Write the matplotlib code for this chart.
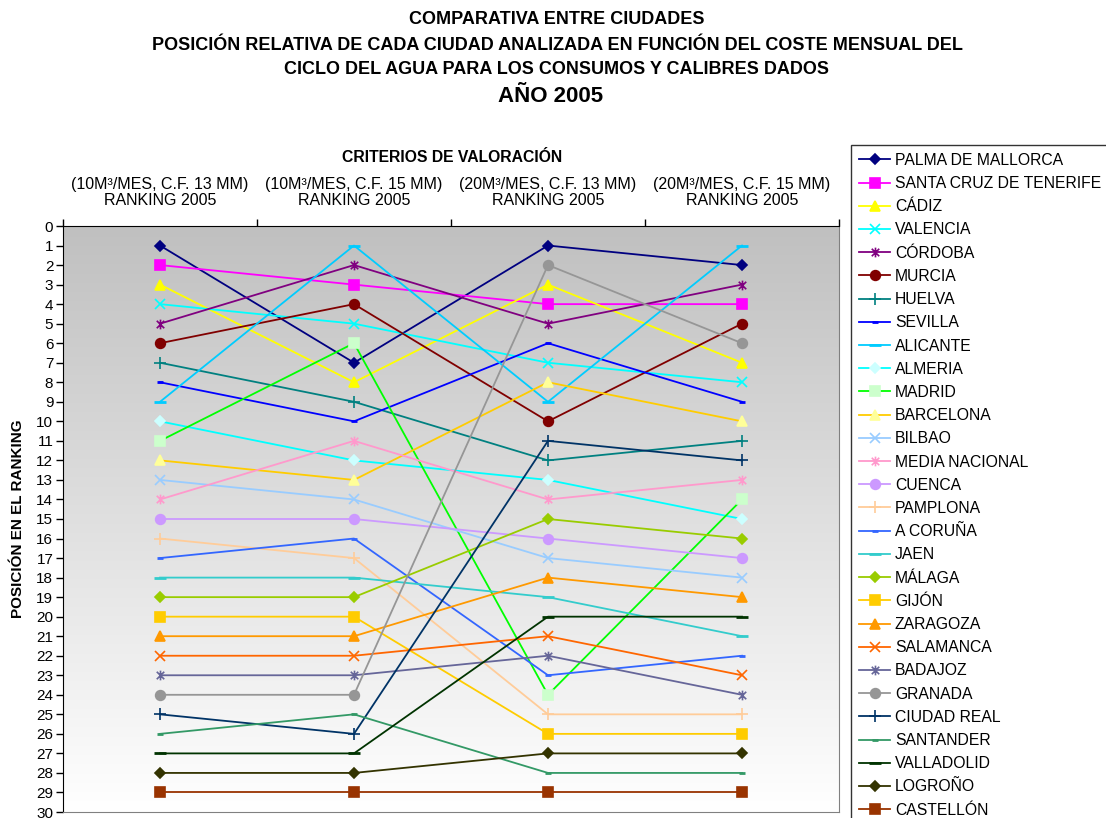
import numpy as np
import matplotlib
matplotlib.use("Agg")
import matplotlib.pyplot as plt
from matplotlib.path import Path
from matplotlib.colors import LinearSegmentedColormap

plt.rcParams['font.family'] = ['Liberation Sans', 'DejaVu Sans']

# categories (x axis, top)
criterios = ["(10M³/MES, C.F. 13 MM)\nRANKING 2005",
             "(10M³/MES, C.F. 15 MM)\nRANKING 2005",
             "(20M³/MES, C.F. 13 MM)\nRANKING 2005",
             "(20M³/MES, C.F. 15 MM)\nRANKING 2005"]

ciudades = ["PALMA DE MALLORCA", "SANTA CRUZ DE TENERIFE", "CÁDIZ", "VALENCIA",
            "CÓRDOBA", "MURCIA", "HUELVA", "SEVILLA", "ALICANTE", "ALMERIA",
            "MADRID", "BARCELONA", "BILBAO", "MEDIA NACIONAL", "CUENCA",
            "PAMPLONA", "A CORUÑA", "JAEN", "MÁLAGA", "GIJÓN", "ZARAGOZA",
            "SALAMANCA", "BADAJOZ", "GRANADA", "CIUDAD REAL", "SANTANDER",
            "VALLADOLID", "LOGROÑO", "CASTELLÓN"]

# ranking positions per city, one value per criterio
posiciones = [
    [1, 7, 1, 2],
    [2, 3, 4, 4],
    [3, 8, 3, 7],
    [4, 5, 7, 8],
    [5, 2, 5, 3],
    [6, 4, 10, 5],
    [7, 9, 12, 11],
    [8, 10, 6, 9],
    [9, 1, 9, 1],
    [10, 12, 13, 15],
    [11, 6, 24, 14],
    [12, 13, 8, 10],
    [13, 14, 17, 18],
    [14, 11, 14, 13],
    [15, 15, 16, 17],
    [16, 17, 25, 25],
    [17, 16, 23, 22],
    [18, 18, 19, 21],
    [19, 19, 15, 16],
    [20, 20, 26, 26],
    [21, 21, 18, 19],
    [22, 22, 21, 23],
    [23, 23, 22, 24],
    [24, 24, 2, 6],
    [25, 26, 11, 12],
    [26, 25, 28, 28],
    [27, 27, 20, 20],
    [28, 28, 27, 27],
    [29, 29, 29, 29],
]

# Excel-like asterisk marker (x plus vertical bar)
asterisk = Path([(-1, -1), (1, 1), (-1, 1), (1, -1), (0, -1.3), (0, 1.3)],
                [Path.MOVETO, Path.LINETO, Path.MOVETO, Path.LINETO, Path.MOVETO, Path.LINETO])

# (line colour, marker, marker face colour, marker size)
estilos = [
    ("#000080", "D", "#000080", 5),
    ("#FF00FF", "s", "#FF00FF", 7),
    ("#FFFF00", "^", "#FFFF00", 7),
    ("#00FFFF", "x", "#00FFFF", 7),
    ("#800080", asterisk, "#800080", 7),
    ("#800000", "o", "#800000", 7),
    ("#008080", "+", "#008080", 8),
    ("#0000FF", "_", "#0000FF", 5),
    ("#00CCFF", "_", "#00CCFF", 8),
    ("#00FFFF", "D", "#CCFFFF", 5),
    ("#00FF00", "s", "#CCFFCC", 7),
    ("#FFCC00", "^", "#FFFF99", 7),
    ("#99CCFF", "x", "#99CCFF", 7),
    ("#FF99CC", asterisk, "#FF99CC", 7),
    ("#CC99FF", "o", "#CC99FF", 7),
    ("#FFCC99", "+", "#FFCC99", 8),
    ("#3366FF", "_", "#3366FF", 5),
    ("#33CCCC", "_", "#33CCCC", 8),
    ("#99CC00", "D", "#99CC00", 5),
    ("#FFCC00", "s", "#FFCC00", 7),
    ("#FF9900", "^", "#FF9900", 7),
    ("#FF6600", "x", "#FF6600", 7),
    ("#666699", asterisk, "#666699", 7),
    ("#969696", "o", "#969696", 7),
    ("#003366", "+", "#003366", 8),
    ("#339966", "_", "#339966", 5),
    ("#003300", "_", "#003300", 8),
    ("#333300", "D", "#333300", 5),
    ("#993300", "s", "#993300", 7),
]

fig = plt.figure(figsize=(11.06, 8.18), dpi=100)
W, H = 1106, 818
ax = fig.add_axes([63 / W, (H - 812) / H, (839 - 63) / W, (812 - 226) / H])

# grey -> white gradient background
grad = LinearSegmentedColormap.from_list("g", ["#C0C0C0", "#FFFFFF"])
ax.imshow(np.linspace(0, 1, 256).reshape(-1, 1), cmap=grad, aspect="auto",
          extent=(-0.5, 3.5, 30, 0), zorder=0, origin="upper")

x = np.arange(len(criterios))
for nombre, pos, (col, mk, mfc, ms) in zip(ciudades, posiciones, estilos):
    mew = 2 if mk in ("_",) else 1.2
    ax.plot(x, pos, color=col, lw=1.3, marker=mk, markersize=ms,
            markerfacecolor=mfc, markeredgecolor=mfc, markeredgewidth=mew,
            label=nombre, zorder=3)

ax.set_xlim(-0.5, 3.5)
ax.set_ylim(30, 0)
ax.set_yticks(range(0, 31))
ax.tick_params(axis="y", length=5, width=1, labelsize=11, pad=2)

ax.xaxis.tick_top()
ax.set_xticks(x)
ax.set_xticklabels(criterios, fontsize=11.5, linespacing=1.1)
ax.set_xticks(np.arange(-0.5, 4, 1), minor=True)
ax.tick_params(axis="x", which="major", length=0, pad=13)
ax.tick_params(axis="x", which="minor", length=5, width=1)

for s in ("right", "bottom"):
    ax.spines[s].set_color("#808080")
for s in ("left", "top"):
    ax.spines[s].set_color("black")

fig.text(452 / W, 1 - 157 / H, "CRITERIOS DE VALORACIÓN", ha="center", va="center",
         fontsize=11.3, fontweight="bold")
fig.text(18 / W, 1 - 519 / H, "POSICIÓN EN EL RANKING", ha="center", va="center",
         rotation=90, fontsize=11, fontweight="bold")

titulos = ["COMPARATIVA ENTRE CIUDADES",
           "POSICIÓN RELATIVA DE CADA CIUDAD ANALIZADA EN FUNCIÓN DEL COSTE MENSUAL DEL",
           "CICLO DEL AGUA PARA LOS CONSUMOS Y CALIBRES DADOS"]
for t, yy in zip(titulos, [20, 45, 69]):
    fig.text(557 / W, 1 - yy / H, t, ha="center", va="center", fontsize=13, fontweight="bold")
fig.text(551 / W, 1 - 96 / H, "AÑO 2005", ha="center", va="center", fontsize=16, fontweight="bold")

leg = fig.legend(loc="upper left", bbox_to_anchor=(851 / W, 1 - 145 / H), fontsize=11.3,
                 frameon=True, fancybox=False, edgecolor="black", borderpad=0.5,
                 handlelength=2.0, handletextpad=0.3, labelspacing=0.523,
                 borderaxespad=0)
leg.get_frame().set_linewidth(1)

fig.savefig("out.png", dpi=100)
